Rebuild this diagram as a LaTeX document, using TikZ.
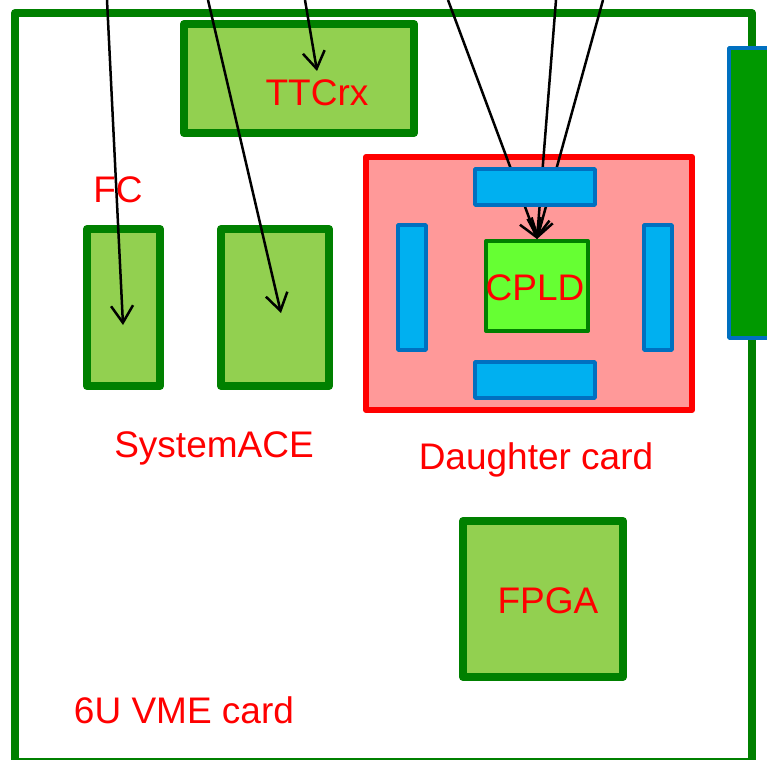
\documentclass[tikz,border=0pt]{standalone}
\usepackage{fontspec}
\setmainfont{Liberation Sans}
\usetikzlibrary{arrows.meta}
\definecolor{cardgreen}{HTML}{008000}
\definecolor{chipgreen}{HTML}{92D050}
\definecolor{cpldgreen}{HTML}{66FF33}
\definecolor{pinkfill}{HTML}{FF9999}
\definecolor{barblue}{HTML}{00B0F0}
\definecolor{edgeblue}{HTML}{0070C0}
\definecolor{conngreen}{HTML}{009900}
\begin{document}
\begin{tikzpicture}[x=1pt, y=-1pt,
    chip/.style={draw=cardgreen, fill=chipgreen, line width=8pt, line join=round, inner sep=0pt},
    bar/.style={draw=edgeblue, fill=barblue, line width=3.5pt, line join=round, inner sep=0pt},
    lbl/.style={text=red, font=\fontsize{37}{44}\selectfont, anchor=base, inner sep=0pt},
    wire/.style={-{Straight Barb[length=17pt, width=22pt]}, line width=2.5pt}]
    \clip (0,0) rectangle (767,759);

    % Boards
    \node[draw=cardgreen, line width=8pt, line join=round, minimum width=737pt, minimum height=749pt] (card) at (383.5,387.5) {};
    \node[chip, minimum width=230pt, minimum height=109pt] (ttcrx) at (299,78.5) {};
    \node[chip, minimum width=73pt, minimum height=157pt] (fc) at (123.5,307.5) {};
    \node[chip, minimum width=108pt, minimum height=157pt] (sysace) at (275,307.5) {};
    \node[chip, minimum width=160pt, minimum height=156pt] (fpga) at (543,599) {};
    \node[draw=red, fill=pinkfill, line width=6pt, line join=round, minimum width=326pt, minimum height=253pt] (daughter) at (529,283.5) {};
    \node[draw=cardgreen, fill=cpldgreen, line width=4pt, line join=round, minimum width=102pt, minimum height=90pt] (cpld) at (537,286) {};

    % Labels
    \node[lbl] (fclbl) at (118,203) {FC};
    \node[lbl] (ttcrxlbl) at (317,106) {TTCrx};
    \node[lbl] (cpldlbl) at (535,300) {CPLD};
    \node[lbl] (sysacelbl) at (214,457) {SystemACE};
    \node[lbl] (daughterlbl) at (536,469) {Daughter card};
    \node[lbl] (fpgalbl) at (548,613) {FPGA};
    \node[lbl] (cardlbl) at (184,723) {6U VME card};

    % Lines
    \coordinate (src1) at (107,0);
    \coordinate (src2) at (208,0);
    \coordinate (src3) at (305,0);
    \coordinate (src4) at (448,0);
    \coordinate (src5) at (556,0);
    \coordinate (src6) at (603,0);
    \coordinate (fctip) at (123,325);
    \coordinate (sysacetip) at (281,313);
    \coordinate (ttcrxtip) at (317,71);
    \draw[wire] (src1) -- (fctip);
    \draw[wire] (src2) -- (sysacetip);
    \draw[wire] (src3) -- (ttcrxtip);
    \draw[wire] (src4) -- (cpld.north);
    \draw[wire] (src5) -- (cpld.north);
    \draw[wire] (src6) -- (cpld.north);

    % Connectors
    \node[bar, minimum width=120pt, minimum height=36pt] (bartop) at (535,187) {};
    \node[bar, minimum width=120pt, minimum height=36pt] (barbottom) at (535,380) {};
    \node[bar, minimum width=28pt, minimum height=125pt] (barleft) at (412,287.5) {};
    \node[bar, minimum width=28pt, minimum height=125pt] (barright) at (658,287.5) {};
    \node[draw=edgeblue, fill=conngreen, line width=3.5pt, line join=round, minimum width=61pt, minimum height=290pt] (vme) at (759.5,193) {};

\end{tikzpicture}
\end{document}
